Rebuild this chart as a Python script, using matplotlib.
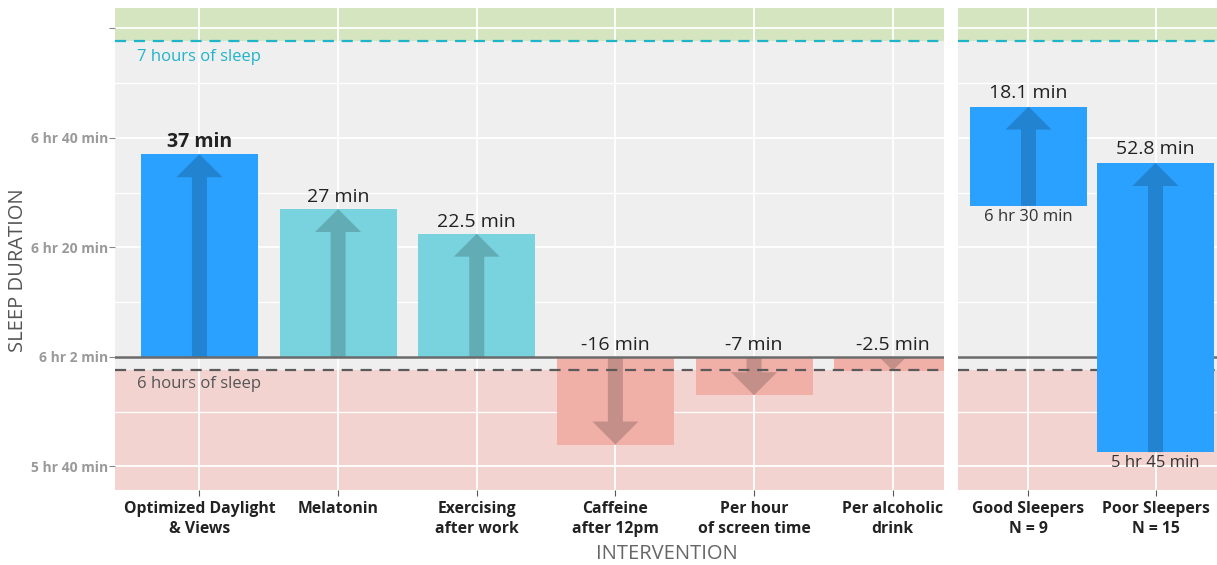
import numpy as np
from matplotlib import pyplot as plt
from matplotlib.patches import Polygon

plt.rcParams['font.family'] = ['Open Sans', 'DejaVu Sans']

# Datos del panel izquierdo (intervenciones)
intervenciones = ['Optimized Daylight\n& Views', 'Melatonin', 'Exercising\nafter work',
                  'Caffeine\nafter 12pm', 'Per hour\nof screen time', 'Per alcoholic\ndrink']
cambios = [37, 27, 22.5, -16, -7, -2.5]
etiquetas_cambio = ['37 min', '27 min', '22.5 min', '-16 min', '-7 min', '-2.5 min']
colores = ['#2AA0FF', '#78D3DF', '#78D3DF', '#F0AFA7', '#F0AFA7', '#F0AFA7']

# Datos del panel derecho (grupos)
grupos = ['Good Sleepers\nN = 9', 'Poor Sleepers\nN = 15']
grupo_inicio = [390, 345]
grupo_cambio = [18.1, 52.8]
grupo_etq_cambio = ['18.1 min', '52.8 min']
grupo_etq_inicio = ['6 hr 30 min', '5 hr 45 min']

# Referencias (minutos)
base = 362.4
siete_horas = 420
seis_horas = 360
ticks_y = [342.4, 362.4, 382.4, 402.4, 422.4]
ticks_y_etq = ['5 hr 40 min', '6 hr 2 min', '6 hr 20 min', '6 hr 40 min', '']
grid_menor = [352.4, 372.4, 392.4, 412.4]

Y_MIN, Y_MAX = 338.1, 426.1
FONDO = '#EFEFEF'
VERDE = '#D4E5C0'
ROSA = '#F2D3D0'
FLECHA = (0, 0, 0, 0.18)


def preparar_panel(ax, n, xlim):
    ax.set_facecolor(FONDO)
    ax.set_xlim(*xlim)
    ax.set_ylim(Y_MIN, Y_MAX)
    for s in ax.spines.values():
        s.set_visible(False)
    ax.set_axisbelow(True)
    ax.axhspan(siete_horas, Y_MAX, color=VERDE, zorder=0.1, lw=0)
    ax.axhspan(Y_MIN, seis_horas, color=ROSA, zorder=0.1, lw=0)
    ax.set_yticks(ticks_y)
    ax.set_yticks(grid_menor, minor=True)
    ax.set_xticks(np.arange(1, n + 1))
    ax.grid(True, which='major', color='white', lw=1.3)
    ax.grid(True, which='minor', axis='y', color='white', lw=0.9)
    ax.tick_params(axis='x', length=4, color='#555555', pad=4,
                   labelsize=11.3, labelcolor='#222222')
    ax.tick_params(axis='y', which='major', length=4, color='#888888', pad=1,
                   labelsize=10, labelcolor='#9A9A9A')
    ax.tick_params(axis='y', which='minor', length=0)


def flecha(ax, x, y0, y1):
    # flecha dibujada en pixeles y pasada a coordenadas de datos
    p0 = ax.transData.transform((x, y0))
    p1 = ax.transData.transform((x, y1))
    largo = abs(p1[1] - p0[1])
    s = np.sign(p1[1] - p0[1])
    hl = min(23, largo)
    hw = 46 * hl / 23
    tw = 7.5
    cx, yb, yt = p0[0], p0[1], p1[1]
    yh = yt - s * hl
    if hl >= largo:
        pts = [(cx - hw / 2, yb), (cx, yt), (cx + hw / 2, yb)]
    else:
        pts = [(cx - tw, yb), (cx - tw, yh), (cx - hw / 2, yh), (cx, yt),
               (cx + hw / 2, yh), (cx + tw, yh), (cx + tw, yb)]
    datos = ax.transData.inverted().transform(pts)
    ax.add_patch(Polygon(datos, closed=True, fc=FLECHA, ec='none', zorder=3))


fig = plt.figure(figsize=(12.17, 5.65), dpi=100)
ax1 = fig.add_axes([115 / 1217, 1 - 490 / 565, 829 / 1217, 482 / 565])
ax2 = fig.add_axes([958 / 1217, 1 - 490 / 565, 259 / 1217, 482 / 565])

preparar_panel(ax1, len(intervenciones), (0.391, 6.37))
preparar_panel(ax2, len(grupos), (0.445, 2.484))

# Panel izquierdo
x1 = np.arange(1, len(intervenciones) + 1)
ax1.bar(x1, cambios, bottom=base, width=0.844, color=colores, zorder=2)
for x, c, et in zip(x1, cambios, etiquetas_cambio):
    flecha(ax1, x, base, base + c)
    y_txt = base + max(c, 0)
    ax1.annotate(et, (x, y_txt), xytext=(0, 5), textcoords='offset points',
                 ha='center', va='baseline', fontsize=14, color='#222222',
                 fontweight='bold' if et == '37 min' else 'normal', zorder=5)
ax1.axhline(base, color='#6A6A6A', lw=1.8, zorder=4)
ax1.axhline(siete_horas, color='#1FB4CA', lw=1.6, ls=(0, (5, 3.5)), zorder=4)
ax1.axhline(seis_horas, color='#5A5A5A', lw=1.6, ls=(0, (5, 3.5)), zorder=4)
ax1.annotate('7 hours of sleep', (0.391, siete_horas), xytext=(16, -11.5),
             textcoords='offset points', va='center', ha='left',
             fontsize=12, color='#1FB4CA')
ax1.annotate('6 hours of sleep', (0.391, seis_horas), xytext=(16, -10),
             textcoords='offset points', va='center', ha='left',
             fontsize=12, color='#555555')
ax1.set_xticklabels(intervenciones, fontweight='bold', linespacing=1.3)
ax1.set_yticklabels(ticks_y_etq, fontweight='bold')

# Panel derecho
x2 = np.arange(1, len(grupos) + 1)
ax2.axhline(base, color='#6A6A6A', lw=1.8, zorder=1)
ax2.axhline(siete_horas, color='#1FB4CA', lw=1.6, ls=(0, (5, 3.5)), zorder=1)
ax2.axhline(seis_horas, color='#5A5A5A', lw=1.6, ls=(0, (5, 3.5)), zorder=1)
ax2.bar(x2, grupo_cambio, bottom=grupo_inicio, width=0.92, color='#2AA0FF', zorder=2)
for x, y0, c, et, eb in zip(x2, grupo_inicio, grupo_cambio, grupo_etq_cambio, grupo_etq_inicio):
    flecha(ax2, x, y0, y0 + c)
    ax2.annotate(et, (x, y0 + c), xytext=(0, 6.5), textcoords='offset points',
                 ha='center', va='baseline', fontsize=14, color='#222222', zorder=5)
    ax2.annotate(eb, (x, y0), xytext=(0, -2), textcoords='offset points',
                 ha='center', va='top', fontsize=12, color='#333333', zorder=5)
ax2.set_xticklabels(grupos, fontweight='bold', linespacing=1.3)
ax2.tick_params(axis='y', which='both', left=False, labelleft=False)

fig.text(18 / 1217, 1 - 270 / 565, 'SLEEP DURATION', rotation=90, ha='center',
         va='center', fontsize=14.5, color='#555555')
fig.text(667 / 1217, 1 - 554 / 565, 'INTERVENTION', ha='center', va='center',
         fontsize=14.5, color='#666666')

fig.savefig('out.png', dpi=100)
